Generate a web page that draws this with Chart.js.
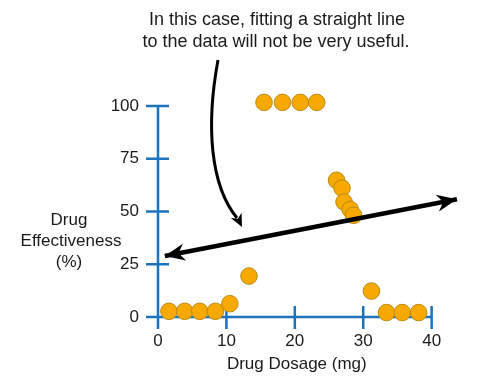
<!DOCTYPE html>
<html>
<head>
<meta charset="utf-8">
<script src="https://cdn.jsdelivr.net/npm/chart.js@4"></script>
<style>
  body { margin: 0; background: #fff; }
  #wrap { width: 485px; height: 387px; position: relative; }
</style>
</head>
<body>
<div id="wrap"><canvas id="chart"></canvas></div>
<script>
// data
const dosage = [1.6, 3.9, 6.1, 8.4, 10.5, 13.3, 15.5, 18.2, 20.8, 23.2, 26.1, 26.9, 27.2, 28.1, 28.6, 31.2, 33.4, 35.7, 38.1];
const effectiveness = [2.7, 2.7, 2.7, 2.7, 6.3, 19.4, 101.7, 101.7, 101.7, 101.7, 64.8, 61.1, 54.5, 51, 48.2, 12.3, 2.1, 2.1, 2.1];
const fitX = [1.0, 43.7];
const fitY = [28.9, 55.8];
const xTicks = [0, 10, 20, 30, 40];
const yTicks = [0, 25, 50, 75, 100];

const AXIS = '#1b72bd';
const TEXT = '#1a1a1a';
const FONT = '"Liberation Sans", Arial, sans-serif';

function arrowHead(ctx, tx, ty, ang, len, wid) {
    ctx.save();
    ctx.translate(tx, ty);
    ctx.rotate(ang);
    ctx.beginPath();
    ctx.moveTo(0, 0);
    ctx.lineTo(-len, wid / 2);
    ctx.lineTo(-len * 0.7, 0);
    ctx.lineTo(-len, -wid / 2);
    ctx.closePath();
    ctx.fill();
    ctx.restore();
}

// axes with crossing ticks, drawn under the points
const axesPlugin = {
    id: 'axes',
    beforeDatasetsDraw(chart) {
        const ctx = chart.ctx;
        const xs = chart.scales.x, ys = chart.scales.y;
        const x0 = xs.getPixelForValue(0), y0 = ys.getPixelForValue(0);
        ctx.save();
        ctx.strokeStyle = AXIS;
        ctx.lineWidth = 2.5;
        ctx.beginPath();
        ctx.moveTo(x0, ys.getPixelForValue(100));
        ctx.lineTo(x0, y0);
        ctx.moveTo(x0, y0);
        ctx.lineTo(xs.getPixelForValue(40), y0);
        xTicks.forEach(v => {
            const px = xs.getPixelForValue(v);
            ctx.moveTo(px, y0 - 11);
            ctx.lineTo(px, y0 + 12);
        });
        yTicks.forEach(v => {
            const py = ys.getPixelForValue(v);
            ctx.moveTo(x0 - 12, py);
            ctx.lineTo(x0 + 11, py);
        });
        ctx.stroke();
        ctx.restore();
    },
    afterDatasetsDraw(chart) {
        const ctx = chart.ctx;
        const xs = chart.scales.x, ys = chart.scales.y;
        ctx.save();
        ctx.fillStyle = '#000';
        // arrowheads on the fitted line
        const ax = xs.getPixelForValue(fitX[0]), ay = ys.getPixelForValue(fitY[0]);
        const bx = xs.getPixelForValue(fitX[1]), by = ys.getPixelForValue(fitY[1]);
        const ang = Math.atan2(by - ay, bx - ax);
        arrowHead(ctx, bx, by, ang, 20, 17);
        arrowHead(ctx, ax, ay, ang + Math.PI, 20, 17);

        // curved annotation arrow
        ctx.strokeStyle = '#000';
        ctx.lineWidth = 3;
        ctx.beginPath();
        ctx.moveTo(218, 60);
        ctx.bezierCurveTo(206, 125, 210, 185, 237, 218);
        ctx.stroke();
        arrowHead(ctx, 242, 227, Math.atan2(8, 4), 13, 12);

        // texts
        ctx.fillStyle = TEXT;
        ctx.textAlign = 'center';
        ctx.textBaseline = 'middle';
        ctx.font = '18px ' + FONT;
        ctx.fillText('In this case, fitting a straight line', 277, 20);
        ctx.fillText('to the data will not be very useful.', 276, 42);
        ctx.font = '17px ' + FONT;
        ctx.fillText('Drug', 69, 220);
        ctx.fillText('Effectiveness', 71, 241);
        ctx.fillText('(%)', 69, 262);
        ctx.fillText('Drug Dosage (mg)', xs.getPixelForValue(20) + 2, 364);
        ctx.restore();
    }
};

const points = dosage.map((d, i) => ({ x: d, y: effectiveness[i] }));
const fitLine = fitX.map((d, i) => ({ x: d, y: fitY[i] }));

new Chart(document.getElementById('chart'), {
    type: 'scatter',
    data: {
        datasets: [
            {
                type: 'line',
                data: fitLine,
                borderColor: '#000',
                borderWidth: 4.5,
                pointRadius: 0,
                clip: false
            },
            {
                data: points,
                backgroundColor: '#f7a900',
                borderColor: '#b98a14',
                borderWidth: 1,
                pointRadius: 8.3,
                clip: false
            }
        ]
    },
    options: {
        responsive: true,
        maintainAspectRatio: false,
        animation: false,
        layout: { padding: { left: 98, right: 26, top: 106, bottom: 20 } },
        plugins: { legend: { display: false }, tooltip: { enabled: false } },
        scales: {
            x: {
                type: 'linear',
                min: 0,
                max: 44,
                grid: { display: false, drawTicks: false },
                border: { display: false },
                afterBuildTicks: s => { s.ticks = xTicks.map(v => ({ value: v })); },
                afterFit: s => { s.height = 50; },
                ticks: { color: TEXT, font: { size: 17, family: FONT }, padding: 14 }
            },
            y: {
                type: 'linear',
                min: 0,
                max: 100,
                grid: { display: false, drawTicks: false },
                border: { display: false },
                afterBuildTicks: s => { s.ticks = yTicks.map(v => ({ value: v })); },
                afterFit: s => { s.width = 60; },
                ticks: { color: TEXT, font: { size: 17, family: FONT }, padding: 19 }
            }
        }
    },
    plugins: [axesPlugin]
});
</script>
</body>
</html>
